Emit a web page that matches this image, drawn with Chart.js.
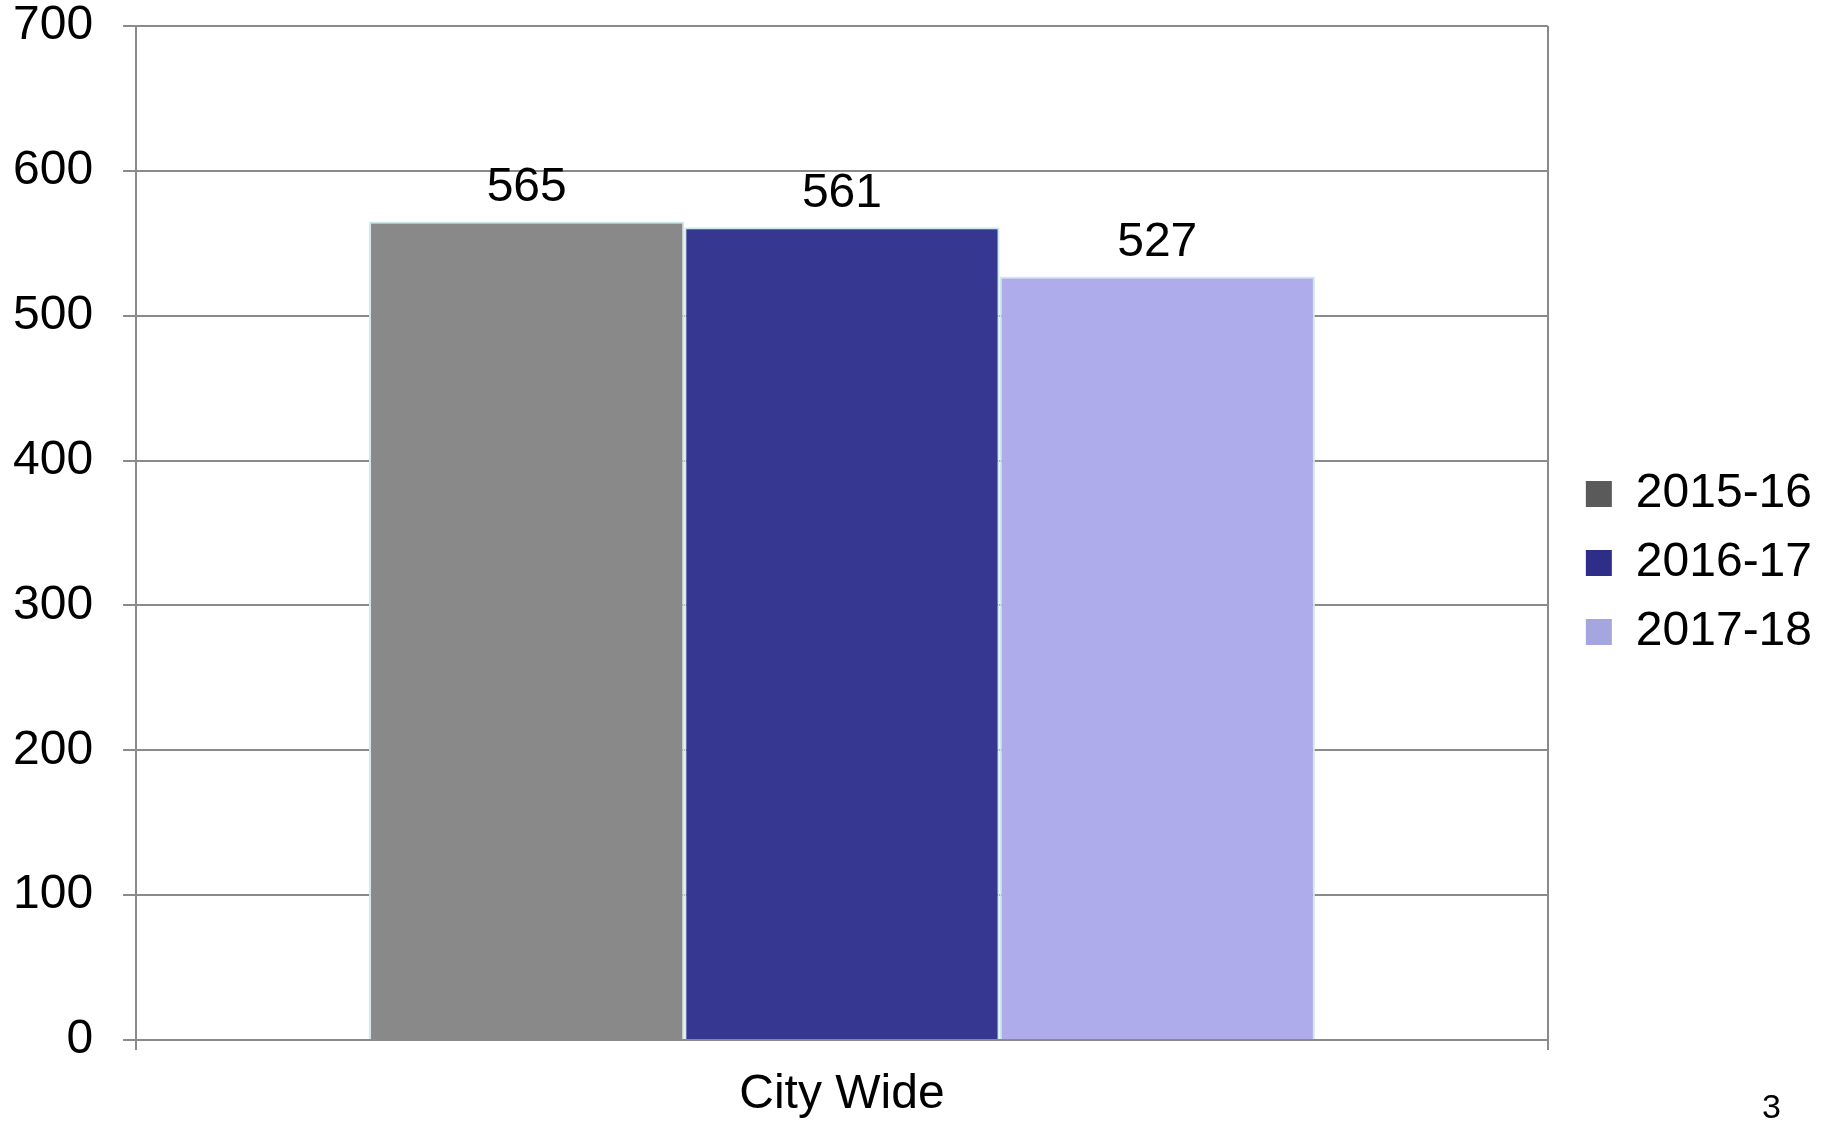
<!DOCTYPE html>
<html>
<head>
<meta charset="utf-8">
<script src="https://cdn.jsdelivr.net/npm/chart.js@4"></script>
<style>
  body { margin: 0; background: #fff; }
  #wrap { position: relative; width: 1835px; height: 1122px; }
  #pageNum { position: absolute; left: 1762px; top: 1087px; font: 34px "Liberation Sans", Arial, sans-serif; color: #000; }
</style>
</head>
<body>
<div id="wrap">
  <canvas id="MyChart" width="1835" height="1122"></canvas>
  <div id="pageNum">3</div>
</div>
<script>
// donnees du graphique
const categories = ['City Wide']
const seriesNames = ['2015-16', '2016-17', '2017-18']
const values2015 = [565]
const values2016 = [561]
const values2017 = [527]
const yTicks = [0, 100, 200, 300, 400, 500, 600, 700]

const barColors = ['#898989', '#363790', '#aeacea']
const legendColors = ['#5a5a5a', '#2e2e88', '#a5a5e0']
const fontFam = '"Liberation Sans", Arial, sans-serif'

// etiquettes au dessus des barres
const valueLabels = {
    id: 'valueLabels',
    afterLayout(chart) {
        // on pousse un peu la legende vers la droite / le haut
        chart.legend.left += 17
        chart.legend.right += 17
        chart.legend.top -= 7
        chart.legend.bottom -= 7
    },
    afterDatasetsDraw(chart) {
        const ctx = chart.ctx
        ctx.save()
        ctx.font = '48px ' + fontFam
        ctx.fillStyle = '#000'
        ctx.textAlign = 'center'
        ctx.textBaseline = 'middle'
        chart.data.datasets.forEach((ds, i) => {
            chart.getDatasetMeta(i).data.forEach((bar, j) => {
                ctx.fillText(ds.data[j], bar.x, bar.y - 34)
            })
        })
        ctx.restore()
    }
}

const data = {
    labels: categories,
    datasets: [
        { label: seriesNames[0], data: values2015, backgroundColor: barColors[0] },
        { label: seriesNames[1], data: values2016, backgroundColor: barColors[1] },
        { label: seriesNames[2], data: values2017, backgroundColor: barColors[2] }
    ].map((d, i) => Object.assign(d, {
        borderColor: '#cfe9ea',
        borderWidth: 2,
        barPercentage: 1,
        categoryPercentage: 0.67
    }))
}

const config = {
    type: 'bar',
    data: data,
    options: {
        responsive: false,
        animation: false,
        layout: { padding: { left: -17, top: 0, right: 30, bottom: -18 } },
        scales: {
            x: {
                offset: true,
                grid: { offset: true, color: '#8a8a8a', lineWidth: 2, tickLength: 10, drawOnChartArea: true },
                border: { color: '#8a8a8a', width: 2 },
                ticks: { color: '#000', padding: 21, font: { family: fontFam, size: 48, lineHeight: 1 } }
            },
            y: {
                min: 0,
                max: 700,
                afterBuildTicks: (axis) => { axis.ticks = yTicks.map(v => ({ value: v })) },
                // le padding des ticks decale le haut du graphique, on le remet
                afterFit: (axis) => { axis.paddingTop = 26; axis.paddingBottom = 10 },
                grid: { color: '#8a8a8a', lineWidth: 2, tickLength: 13 },
                border: { color: '#8a8a8a', width: 2 },
                ticks: { color: '#000', padding: 30, font: { family: fontFam, size: 48 } }
            }
        },
        plugins: {
            tooltip: { enabled: false },
            legend: {
                position: 'right',
                labels: {
                    color: '#000',
                    boxWidth: 26,
                    boxHeight: 26,
                    padding: 21,
                    font: { family: fontFam, size: 48 },
                    generateLabels: (chart) => seriesNames.map((n, i) => ({
                        text: n,
                        fillStyle: legendColors[i],
                        strokeStyle: legendColors[i],
                        lineWidth: 0,
                        datasetIndex: i
                    }))
                }
            }
        }
    },
    plugins: [valueLabels]
}

new Chart(document.getElementById('MyChart'), config)
</script>
</body>
</html>
